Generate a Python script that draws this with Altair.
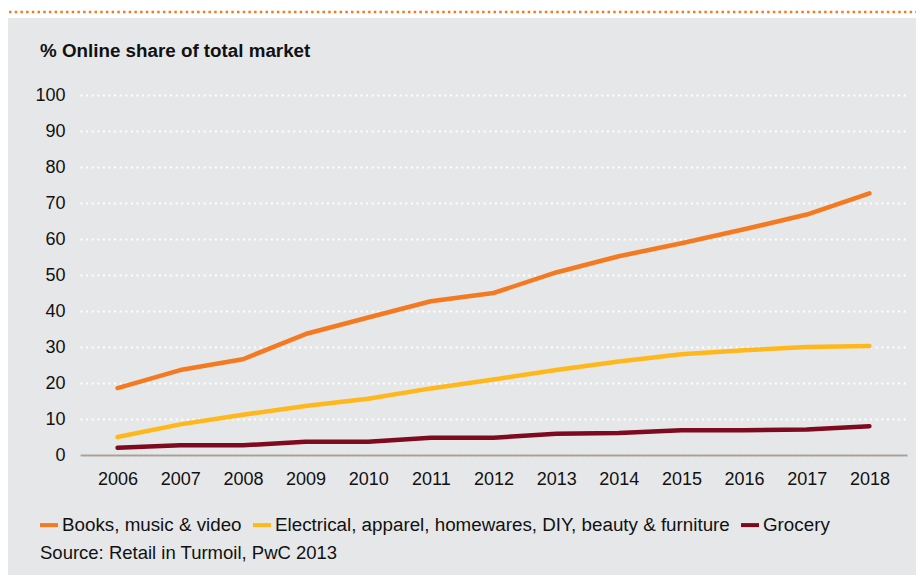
import altair as alt
import pandas as pd

years = ["2006", "2007", "2008", "2009", "2010", "2011", "2012",
         "2013", "2014", "2015", "2016", "2017", "2018"]
books = [18.6, 23.6, 26.6, 33.6, 38.2, 42.7, 45.0, 50.7, 55.2, 58.8, 62.7, 66.8, 72.7]
electrical = [5.0, 8.5, 11.2, 13.6, 15.6, 18.5, 21.0, 23.6, 26.0, 28.0, 29.1, 30.0, 30.3]
grocery = [2.0, 2.7, 2.7, 3.7, 3.7, 4.8, 4.8, 5.9, 6.1, 6.9, 6.9, 7.1, 8.0]

series_names = ["Books, music & video",
                "Electrical, apparel, homewares, DIY, beauty & furniture",
                "Grocery"]
series_colors = ["#F47A22", "#FFB81C", "#7E0A1F"]
y_ticks = [0, 10, 20, 30, 40, 50, 60, 70, 80, 90, 100]

title_text = "% Online share of total market"
source_text = "Source: Retail in Turmoil, PwC 2013"

rows = []
for name, vals in zip(series_names, [books, electrical, grocery]):
    for yr, v in zip(years, vals):
        rows.append({"year": yr, "value": v, "series": name})
df = pd.DataFrame(rows)

FONT = "Liberation Sans"

lines = alt.Chart(df).mark_line(
    strokeWidth=4.5, strokeCap="round", strokeJoin="round"
).encode(
    x=alt.X("year:O", sort=years,
            scale=alt.Scale(type="point", padding=0.6),
            axis=alt.Axis(title=None, labelAngle=0, ticks=False, grid=False,
                          domain=True, domainColor="#A8A19B", domainWidth=2,
                          labelPadding=15, labelFontSize=18, labelColor="#111111",
                          labelFont=FONT)),
    y=alt.Y("value:Q", scale=alt.Scale(domain=[0, 100], nice=False, zero=True),
            axis=alt.Axis(title=None, values=y_ticks, ticks=False, domain=False,
                          grid=True, gridColor="#FFFFFF", gridDash=[2, 3.6],
                          gridWidth=2, labelPadding=15, labelFontSize=18,
                          labelColor="#111111", labelFont=FONT)),
    color=alt.Color("series:N",
                    scale=alt.Scale(domain=series_names, range=series_colors),
                    legend=alt.Legend(title=None, orient="none", direction="horizontal",
                                      legendX=-42, legendY=419,
                                      symbolType="stroke", symbolSize=324,
                                      symbolStrokeWidth=4, labelOffset=2,
                                      columnPadding=3, labelLimit=800,
                                      labelFontSize=18.8, labelFont=FONT,
                                      labelColor="#111111")),
)

top_strip = alt.Chart(pd.DataFrame({"k": [0]})).mark_rect(color="#FFFFFF").encode(
    x=alt.value(-80), x2=alt.value(850), y=alt.value(-95), y2=alt.value(-77)
)
dots = alt.Chart(pd.DataFrame({"k": [0]})).mark_rule(
    color="#F47A22", strokeWidth=2.5, strokeDash=[2.5, 3.2]
).encode(
    x=alt.value(-71), x2=alt.value(850), y=alt.value(-83)
)
title = alt.Chart(pd.DataFrame({"t": [title_text]})).mark_text(
    align="left", baseline="alphabetic", fontSize=18.8, fontWeight="bold",
    font=FONT, color="#111111"
).encode(x=alt.value(-40), y=alt.value(-38), text="t:N")
source = alt.Chart(pd.DataFrame({"t": [source_text]})).mark_text(
    align="left", baseline="alphabetic", fontSize=18.5, font=FONT, color="#111111"
).encode(x=alt.value(-40), y=alt.value(464), text="t:N")

chart = alt.layer(top_strip, dots, title, source, lines).properties(
    width=827, height=360,
    autosize=alt.AutoSizeParams(type="none"),
    padding={"left": 72, "top": 87, "right": 9, "bottom": 120},
).configure(background="#E6E7E8").configure_view(stroke=None)

chart.save("out.html", embed_options={"renderer": "svg", "actions": False})
